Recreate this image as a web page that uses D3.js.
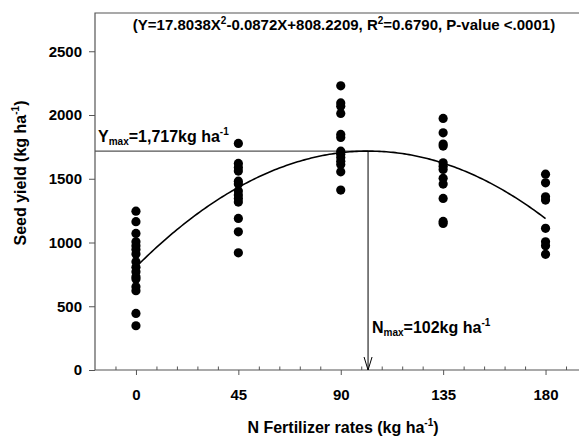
<!DOCTYPE html>
<html><head><meta charset="utf-8">
<script src="https://cdn.jsdelivr.net/npm/d3@7"></script>
<style>
html,body{margin:0;padding:0;background:#fff;}
svg{display:block;}
text{font-family:Arial,"Liberation Sans",sans-serif;font-weight:bold;fill:#000;}
</style></head>
<body>
<script>
// ---- data ----
const nRates = [0, 45, 90, 135, 180];
const yield0 = [1246, 1163, 1071, 1006, 975, 946, 909, 849, 805, 771, 732, 713, 653, 622, 444, 347];
const yield45 = [1777, 1620, 1589, 1560, 1481, 1458, 1403, 1372, 1346, 1317, 1189, 1084, 919];
const yield90 = [2229, 2095, 2069, 2012, 1848, 1824, 1716, 1693, 1667, 1638, 1612, 1554, 1411];
const yield135 = [1973, 1860, 1772, 1756, 1625, 1599, 1573, 1503, 1458, 1346, 1165, 1150];
const yield180 = [1536, 1468, 1358, 1333, 1111, 1006, 975, 907];
const fitCoef = [808.2209, 17.8038, -0.0872]; // intercept, linear, quadratic
const nMax = 102;
const yMax = 1717;
const xTicks = [0, 45, 90, 135, 180];
const xMinorTicks = [-9, 9, 18, 27, 36, 54, 63, 72, 81, 99, 108, 117, 126, 144, 153, 162, 171, 189];
const yTicks = [0, 500, 1000, 1500, 2000, 2500];

const W = 579, H = 437;
const FONT = "Arial,'Liberation Sans',sans-serif";
const svg = d3.select("body").append("svg").attr("width", W).attr("height", H);

const x = d3.scaleLinear().domain([-18, 198]).range([95, 586.5]);
const y = d3.scaleLinear().domain([0, 2800]).range([370, 13]);

// frame
svg.append("path")
  .attr("d", `M${x(198)},${y(2800)}H${x(-18)}V${y(0)}H${x(198)}`)
  .attr("fill", "none").attr("stroke", "#555").attr("stroke-width", 1.2);

// y axis
const yAxis = svg.append("g").attr("transform", `translate(${x(-18)},0)`)
  .call(d3.axisLeft(y).tickValues(yTicks).tickSize(6).tickPadding(7).tickFormat(d3.format("d")));
yAxis.select(".domain").remove();
yAxis.selectAll("line").attr("stroke", "#555");
yAxis.selectAll("text").style("font-size", "15px").style("font-family", FONT).style("font-weight", "bold");

// x axis major (outside)
const xAxis = svg.append("g").attr("transform", `translate(0,${y(0)})`)
  .call(d3.axisBottom(x).tickValues(xTicks).tickSize(5).tickPadding(14).tickFormat(d3.format("d")));
xAxis.select(".domain").remove();
xAxis.selectAll("line").attr("stroke", "#555");
xAxis.selectAll("text").style("font-size", "15px").style("font-family", FONT).style("font-weight", "bold");

// x axis minor (inside)
const xMinor = svg.append("g").attr("transform", `translate(0,${y(0)})`)
  .call(d3.axisTop(x).tickValues(xMinorTicks).tickSize(3.5).tickFormat(""));
xMinor.select(".domain").remove();
xMinor.selectAll("line").attr("stroke", "#555");

// axis titles
svg.append("text").attr("x", 343).attr("y", 433).attr("text-anchor", "middle")
  .style("font-size", "16px")
  .call(t => { t.append("tspan").text("N Fertilizer rates (kg ha");
               t.append("tspan").attr("dy", -7).style("font-size", "10px").text("-1");
               t.append("tspan").attr("dy", 7).text(")"); });

svg.append("text").attr("transform", "translate(26,173) rotate(-90)").attr("text-anchor", "middle")
  .style("font-size", "16px")
  .call(t => { t.append("tspan").text("Seed yield (kg ha");
               t.append("tspan").attr("dy", -7).style("font-size", "10px").text("-1");
               t.append("tspan").attr("dy", 7).text(")"); });

// equation
svg.append("text").attr("x", 344).attr("y", 30).attr("text-anchor", "middle")
  .style("font-size", "15px")
  .call(t => {
    t.append("tspan").text("(Y=17.8038X");
    t.append("tspan").attr("dy", -6).style("font-size", "10px").text("2");
    t.append("tspan").attr("dy", 6).text("-0.0872X+808.2209, R");
    t.append("tspan").attr("dy", -6).style("font-size", "10px").text("2");
    t.append("tspan").attr("dy", 6).text("=0.6790, P-value <.0001)");
  });

// Ymax horizontal line
svg.append("line").attr("x1", x(-18)).attr("x2", x(nMax)).attr("y1", y(yMax)).attr("y2", y(yMax))
  .attr("stroke", "#555").attr("stroke-width", 1.2);
// Nmax vertical line
svg.append("line").attr("x1", x(nMax)).attr("x2", x(nMax)).attr("y1", y(yMax)).attr("y2", y(0))
  .attr("stroke", "#000").attr("stroke-width", 1);
// arrow head
svg.append("path")
  .attr("d", `M${x(nMax) - 4},${y(0) - 13}L${x(nMax)},${y(0)}L${x(nMax) + 4},${y(0) - 13}`)
  .attr("fill", "none").attr("stroke", "#000").attr("stroke-width", 1);

// labels
svg.append("text").attr("x", 98).attr("y", 142).style("font-size", "16px")
  .call(t => {
    t.append("tspan").text("Y");
    t.append("tspan").attr("dy", 3).style("font-size", "10px").text("max");
    t.append("tspan").attr("dy", -3).text("=1,717kg ha");
    t.append("tspan").attr("dy", -7).style("font-size", "10px").text("-1");
  });
svg.append("text").attr("x", 372).attr("y", 333).style("font-size", "16px")
  .call(t => {
    t.append("tspan").text("N");
    t.append("tspan").attr("dy", 3).style("font-size", "10px").text("max");
    t.append("tspan").attr("dy", -3).text("=102kg ha");
    t.append("tspan").attr("dy", -7).style("font-size", "10px").text("-1");
  });

// fitted curve
const curveX = d3.range(0, 180.5, 1);
const fit = v => fitCoef[0] + fitCoef[1] * v + fitCoef[2] * v * v;
svg.append("path").datum(curveX)
  .attr("d", d3.line().x(d => x(d)).y(d => y(fit(d))))
  .attr("fill", "none").attr("stroke", "#000").attr("stroke-width", 1.6);

// points
const series = [yield0, yield45, yield90, yield135, yield180];
const pts = [];
series.forEach((arr, i) => arr.forEach(v => pts.push({n: nRates[i], v})));
svg.append("g").selectAll("circle").data(pts).join("circle")
  .attr("cx", d => x(d.n)).attr("cy", d => y(d.v)).attr("r", 4.6).attr("fill", "#000");
</script>
</body></html>
